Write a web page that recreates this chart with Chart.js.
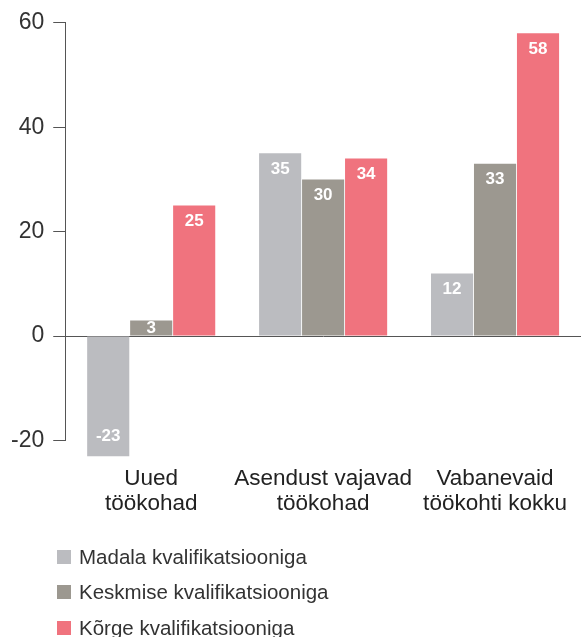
<!DOCTYPE html>
<html>
<head>
<meta charset="utf-8">
<script src="https://cdn.jsdelivr.net/npm/chart.js@4"></script>
<style>
    body { margin: 0; background: #fff; font-family: "Liberation Sans", Arial, sans-serif; }
    #wrap { width: 581px; height: 546px; position: relative; }
    #legend { margin: 0; padding: 0; list-style: none; position: absolute; left: 57px; top: 539px; }
    #legend li { height: 35.5px; display: flex; align-items: center; font-size: 20.5px; color: #333; }
    #legend span.box { width: 14px; height: 14px; margin-right: 8px; display: inline-block; }
</style>
</head>
<body>
<div id="wrap"><canvas id="graph1"></canvas></div>
<ul id="legend"></ul>
<script>
// kategooriad ja andmed
const categories = [['Uued', 'töökohad'], ['Asendust vajavad', 'töökohad'], ['Vabanevaid', 'töökohti kokku']];
const seriesNames = ['Madala kvalifikatsiooniga', 'Keskmise kvalifikatsiooniga', 'Kõrge kvalifikatsiooniga'];
const madala = [-23, 35, 12];
const keskmise = [3, 30, 33];
const korge = [25, 34, 58];
const yTicks = [-20, 0, 20, 40, 60];
const colors = ['#bbbcc0', '#9c9890', '#f0737e'];
const fontFamily = '"Liberation Sans", Arial, sans-serif';

// väärtused tulbas
const barLabels = {
    id: 'barLabels',
    afterDatasetsDraw(chart) {
        const ctx = chart.ctx;
        ctx.save();
        ctx.fillStyle = '#fff';
        ctx.font = 'bold 17px ' + fontFamily;
        ctx.textAlign = 'center';
        ctx.textBaseline = 'middle';
        chart.data.datasets.forEach((ds, i) => {
            chart.getDatasetMeta(i).data.forEach((bar, j) => {
                const v = ds.data[j];
                const half = Math.abs(bar.base - bar.y) / 2;
                const y = v >= 0 ? bar.y + Math.min(16, half) : bar.y - Math.min(20, half);
                ctx.fillText(v, bar.x, y);
            });
        });
        ctx.restore();
    }
};

const datasets = [madala, keskmise, korge].map((d, i) => ({
    label: seriesNames[i],
    data: d,
    backgroundColor: colors[i],
    borderWidth: 0,
    clip: false,
    categoryPercentage: 0.75,
    barPercentage: 0.98
}));

const chart = new Chart(document.getElementById('graph1').getContext('2d'), {
    type: 'bar',
    data: { labels: categories, datasets: datasets },
    options: {
        responsive: true,
        maintainAspectRatio: false,
        animation: false,
        layout: { padding: { top: 17, left: 2, right: 0, bottom: 4 } },
        plugins: {
            legend: { display: false },
            tooltip: { enabled: false }
        },
        scales: {
            x: {
                grid: { display: false, drawTicks: false },
                border: { display: false },
                afterFit: (scale) => { scale.paddingLeft = 0; scale.paddingRight = 0; },
                ticks: {
                    padding: 26,
                    autoSkip: false,
                    color: '#222',
                    font: { size: 22.5, family: fontFamily, lineHeight: 1.1 },
                    maxRotation: 0
                }
            },
            y: {
                min: -20,
                max: 60,
                afterBuildTicks: (axis) => { axis.ticks = yTicks.map(v => ({ value: v })); },
                grid: {
                    color: (c) => c.tick && c.tick.value === 0 ? '#555' : 'rgba(0,0,0,0)',
                    tickColor: '#555',
                    tickLength: 12
                },
                border: { color: '#555', width: 1 },
                ticks: {
                    padding: 9,
                    color: '#333',
                    font: { size: 23, family: fontFamily }
                }
            }
        }
    },
    plugins: [barLabels]
});

// legend HTML-is
const legend = document.getElementById('legend');
seriesNames.forEach((name, i) => {
    const li = document.createElement('li');
    li.innerHTML = `<span class="box" style="background:${colors[i]}"></span>${name}`;
    legend.appendChild(li);
});
</script>
</body>
</html>
